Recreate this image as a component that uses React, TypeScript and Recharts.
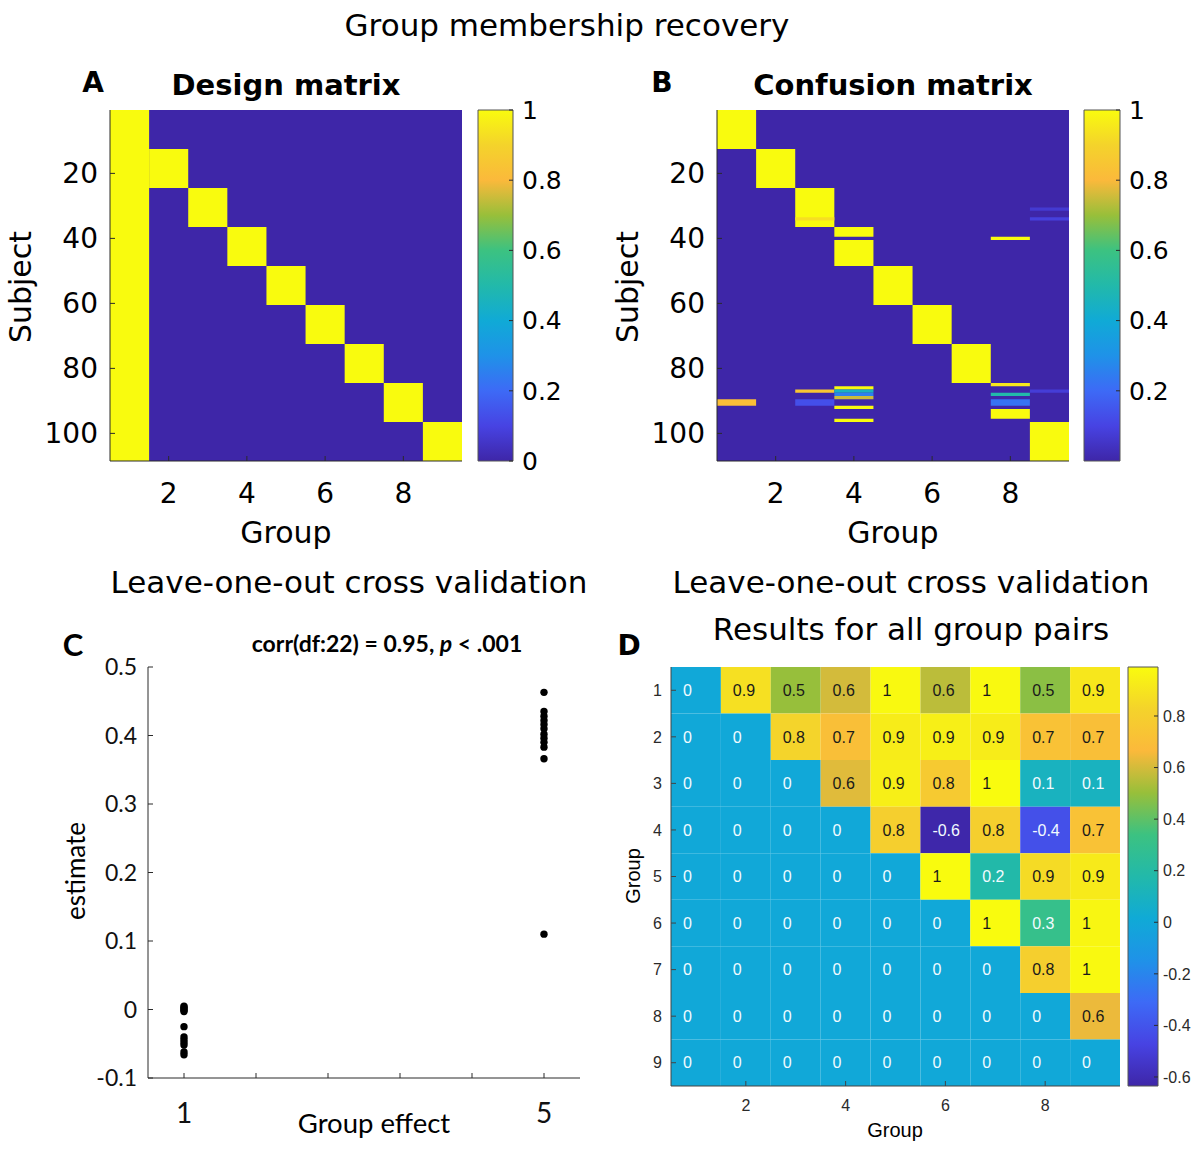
import React from 'react';
import { ComposedChart, ScatterChart, Scatter, XAxis, YAxis, ReferenceArea } from 'recharts';

// ---------------- data ----------------
const groupIds = [1, 2, 3, 4, 5, 6, 7, 8, 9];
const groupTicks = [2, 4, 6, 8];
const subjectTicks = [20, 40, 60, 80, 100];
const subjectDomain: [number, number] = [0.5, 108.5];
const colorbarTicksA = [0, 0.2, 0.4, 0.6, 0.8, 1];
const colorbarTicksB = [0.2, 0.4, 0.6, 0.8, 1];
const colorbarTicksD = [-0.6, -0.4, -0.2, 0, 0.2, 0.4, 0.6, 0.8];
const colorDomainD: [number, number] = [-0.635, 0.99];

// Design matrix: column (group), first subject, last subject, value
const designBlocks = [
  { group: 1, from: 1, to: 108, value: 1 },
  { group: 2, from: 13, to: 24, value: 1 },
  { group: 3, from: 25, to: 36, value: 1 },
  { group: 4, from: 37, to: 48, value: 1 },
  { group: 5, from: 49, to: 60, value: 1 },
  { group: 6, from: 61, to: 72, value: 1 },
  { group: 7, from: 73, to: 84, value: 1 },
  { group: 8, from: 85, to: 96, value: 1 },
  { group: 9, from: 97, to: 108, value: 1 },
];

// Confusion matrix: non-zero entries
const confusionBlocks = [
  { group: 1, from: 1, to: 12, value: 1 },
  { group: 2, from: 13, to: 24, value: 1 },
  { group: 3, from: 25, to: 36, value: 1 },
  { group: 3, from: 34, to: 34, value: 0.93 },
  { group: 4, from: 37, to: 39, value: 1 },
  { group: 4, from: 41, to: 48, value: 1 },
  { group: 8, from: 40, to: 40, value: 1 },
  { group: 9, from: 31, to: 31, value: 0.07 },
  { group: 9, from: 34, to: 34, value: 0.09 },
  { group: 5, from: 49, to: 60, value: 1 },
  { group: 6, from: 61, to: 72, value: 1 },
  { group: 7, from: 73, to: 84, value: 1 },
  { group: 8, from: 85, to: 85, value: 0.95 },
  { group: 4, from: 86, to: 86, value: 1 },
  { group: 3, from: 87, to: 87, value: 0.85 },
  { group: 4, from: 87, to: 87, value: 0.45 },
  { group: 9, from: 87, to: 87, value: 0.08 },
  { group: 4, from: 88, to: 88, value: 0.25 },
  { group: 8, from: 88, to: 88, value: 0.5 },
  { group: 4, from: 89, to: 89, value: 0.75 },
  { group: 1, from: 90, to: 91, value: 0.82 },
  { group: 3, from: 90, to: 91, value: 0.13 },
  { group: 8, from: 90, to: 91, value: 0.22 },
  { group: 4, from: 92, to: 92, value: 1 },
  { group: 8, from: 93, to: 95, value: 1 },
  { group: 4, from: 96, to: 96, value: 1 },
  { group: 9, from: 97, to: 108, value: 1 },
];

// Panel C
const effectTicks = [1, 1.8, 2.6, 3.4, 4.2, 5];
const estimateTicks = [-0.1, 0, 0.1, 0.2, 0.3, 0.4, 0.5];
const estimatesEffect1 = [0.005, 0.003, 0.001, -0.001, -0.003, -0.025, -0.04, -0.044, -0.048, -0.052, -0.062, -0.066];
const estimatesEffect5 = [0.463, 0.435, 0.428, 0.422, 0.416, 0.41, 0.402, 0.396, 0.39, 0.383, 0.366, 0.11];

// Panel D: results for all group pairs (row = group i, column = group j)
const pairValues = [
  [0, 0.88, 0.5, 0.6, 0.98, 0.56, 0.98, 0.48, 0.91],
  [0, 0, 0.83, 0.7, 0.93, 0.94, 0.93, 0.72, 0.7],
  [0, 0, 0, 0.62, 0.94, 0.77, 0.99, 0.1, 0.1],
  [0, 0, 0, 0, 0.8, -0.63, 0.8, -0.42, 0.72],
  [0, 0, 0, 0, 0, 0.99, 0.18, 0.86, 0.92],
  [0, 0, 0, 0, 0, 0, 0.99, 0.3, 0.97],
  [0, 0, 0, 0, 0, 0, 0, 0.8, 0.98],
  [0, 0, 0, 0, 0, 0, 0, 0, 0.64],
  [0, 0, 0, 0, 0, 0, 0, 0, 0],
];

// ---------------- colour map (parula-like) ----------------
const parulaStops: [number, string][] = [
  [0.0, '#3E26A8'],
  [0.1, '#4743E3'],
  [0.2, '#3D6AF6'],
  [0.3, '#1F92E8'],
  [0.4, '#10AAD6'],
  [0.5, '#22B9AA'],
  [0.6, '#3CC281'],
  [0.7, '#98BF3A'],
  [0.8, '#FBB93B'],
  [0.9, '#F4D32B'],
  [1.0, '#F9FB0E'],
];

function hexToRgb(h: string) {
  return [parseInt(h.slice(1, 3), 16), parseInt(h.slice(3, 5), 16), parseInt(h.slice(5, 7), 16)];
}
function colorAt(t: number) {
  const c = Math.max(0, Math.min(1, t));
  for (let i = 0; i < parulaStops.length - 1; i++) {
    const [t0, c0] = parulaStops[i];
    const [t1, c1] = parulaStops[i + 1];
    if (c >= t0 && c <= t1) {
      const f = (c - t0) / (t1 - t0);
      const a = hexToRgb(c0);
      const b = hexToRgb(c1);
      const m = a.map((v, k) => Math.round(v + (b[k] - v) * f));
      return `rgb(${m[0]},${m[1]},${m[2]})`;
    }
  }
  return parulaStops[parulaStops.length - 1][1];
}
const colorD = (v: number) => colorAt((v - colorDomainD[0]) / (colorDomainD[1] - colorDomainD[0]));
const fmt1 = (v: number) => String(Math.round(v * 10) / 10);
const NoMark = () => <g />;

// ---------------- styles ----------------
const AXIS = '#2b2b2b';
const DEJAVU = 'DejaVu Sans';
const LATO = 'Lato';
const HELV = 'Liberation Sans';

function SubjectMatrix({ left, blocks }: { left: number; blocks: typeof designBlocks }) {
  const tickStyle = { fill: '#000', fontSize: 28, fontFamily: DEJAVU };
  const anchors = blocks.map((b) => ({ x: b.group, y: b.from }));
  return (
    <div style={{ position: 'absolute', left, top: 80 }}>
      <ComposedChart width={470} height={490} margin={{ top: 30, right: 8, bottom: 0, left: 0 }}>
        <XAxis type="number" dataKey="x" domain={[0.5, 9.5]} ticks={groupTicks} allowDataOverflow height={109}
          tickSize={-5} tickMargin={27} tick={tickStyle} stroke={AXIS} interval={0} />
        <XAxis xAxisId="top" orientation="top" type="number" domain={[0.5, 9.5]} ticks={groupTicks}
          allowDataOverflow height={0} tickSize={-5} tick={false} stroke={AXIS} interval={0} />
        <YAxis type="number" dataKey="y" domain={subjectDomain} reversed ticks={subjectTicks} allowDataOverflow width={110}
          tickSize={-5} tickMargin={17} tick={tickStyle} stroke={AXIS} interval={0} />
        <YAxis yAxisId="right" orientation="right" type="number" domain={subjectDomain} reversed ticks={subjectTicks}
          allowDataOverflow width={0} tickSize={-5} tick={false} stroke={AXIS} interval={0} />
        <ReferenceArea x1={0.5} x2={9.5} y1={0.5} y2={108.5} fill={colorAt(0)} fillOpacity={1} />
        {blocks.map((b, i) => (
          <ReferenceArea key={i} x1={b.group - 0.5} x2={b.group + 0.5} y1={b.from - 0.5} y2={b.to + 0.5}
            fill={colorAt(b.value)} fillOpacity={1} />
        ))}
        <Scatter data={anchors} isAnimationActive={false} shape={NoMark} />
      </ComposedChart>
    </div>
  );
}

function Colorbar({ left, top, width, height, margin, domain, ticks, id, axisWidth, tickMargin, tickStyle }: any) {
  const anchors = ticks.map((v: number) => ({ x: 0.5, y: v }));
  return (
    <div style={{ position: 'absolute', left, top }}>
      <ComposedChart width={width} height={height} margin={margin}>
        <defs>
          <linearGradient id={id} x1="0" y1="1" x2="0" y2="0">
            {parulaStops.map(([t, c]) => (
              <stop key={t} offset={`${t * 100}%`} stopColor={c} />
            ))}
          </linearGradient>
        </defs>
        <XAxis type="number" dataKey="x" domain={[0, 1]} hide />
        <YAxis orientation="right" type="number" dataKey="y" domain={domain} ticks={ticks} allowDataOverflow width={axisWidth}
          tickSize={-4} tickMargin={tickMargin} tick={tickStyle} axisLine={false} stroke={AXIS}
          interval={0} tickFormatter={fmt1} />
        <ReferenceArea x1={0} x2={1} y1={domain[0]} y2={domain[1]} fill={`url(#${id})`} fillOpacity={1}
          stroke="#555" strokeWidth={1} />
        <Scatter data={anchors} isAnimationActive={false} shape={NoMark} />
      </ComposedChart>
    </div>
  );
}

const scatterPoints = [
  ...estimatesEffect1.map((e) => ({ effect: 1, estimate: e })),
  ...estimatesEffect5.map((e) => ({ effect: 5, estimate: e })),
];

function PanelC() {
  const tickStyle = { fill: '#111', fontSize: 23, fontFamily: LATO };
  return (
    <div style={{ position: 'absolute', left: 0, top: 640 }}>
      <ScatterChart width={600} height={509} margin={{ top: 27, right: 20, bottom: 0, left: 0 }}>
        <XAxis type="number" dataKey="effect" domain={[0.6, 5.4]} ticks={effectTicks} allowDataOverflow height={71}
          tickSize={-5} tickMargin={30} tick={{ fill: '#111', fontSize: 28, fontFamily: LATO }} stroke={AXIS}
          interval={0} tickFormatter={(v: number) => (v === 1 || v === 5 ? String(v) : '')} />
        <XAxis xAxisId="top" orientation="top" type="number" domain={[0.6, 5.4]} ticks={effectTicks}
          allowDataOverflow height={0} tickSize={-4} tick={false} axisLine={false} stroke="#bbb" interval={0} />
        <YAxis type="number" dataKey="estimate" domain={[-0.1, 0.5]} ticks={estimateTicks} allowDataOverflow width={148}
          tickSize={-5} tickMargin={16} tick={tickStyle} stroke={AXIS} interval={0} tickFormatter={fmt1} />
        <YAxis yAxisId="right" orientation="right" type="number" domain={[-0.1, 0.5]} ticks={estimateTicks}
          allowDataOverflow width={0} tickSize={-5} tick={false} stroke={AXIS} interval={0} />
        <Scatter data={scatterPoints} fill="#000" isAnimationActive={false}
          shape={(p: any) => <circle cx={p.cx} cy={p.cy} r={3.7} fill="#000" />} />
      </ScatterChart>
    </div>
  );
}

const pairCells = pairValues.flatMap((row, i) => row.map((v, j) => ({ row: i + 1, col: j + 1, value: v })));

function CellLabel(p: any) {
  const v = p.payload.value;
  return (
    <text x={p.cx - 13} y={p.cy} dy="0.36em" fontSize={16} fontFamily={HELV}
      fill={v < 0.45 ? '#f2fbff' : '#1a1a1a'}>
      {fmt1(v)}
    </text>
  );
}

function PanelD() {
  const tickStyle = { fill: '#2a2a2a', fontSize: 16, fontFamily: HELV };
  return (
    <div style={{ position: 'absolute', left: 607, top: 650 }}>
      <ComposedChart width={520} height={499} margin={{ top: 17, right: 7, bottom: 0, left: 0 }}>
        <XAxis type="number" dataKey="col" domain={[0.5, 9.5]} ticks={groupTicks} allowDataOverflow height={63}
          tickSize={-5} tickMargin={19} tick={tickStyle} stroke="#444" interval={0} />
        <XAxis xAxisId="top" orientation="top" type="number" domain={[0.5, 9.5]} ticks={groupTicks}
          allowDataOverflow height={0} tickSize={-5} tick={false} stroke="#999" interval={0} />
        <YAxis type="number" dataKey="row" domain={[0.5, 9.5]} reversed ticks={groupIds} allowDataOverflow width={64}
          tickSize={-5} tickMargin={14} tick={tickStyle} stroke="#444" interval={0} />
        <YAxis yAxisId="right" orientation="right" type="number" domain={[0.5, 9.5]} reversed ticks={groupIds}
          allowDataOverflow width={0} tickSize={-5} tick={false} stroke="#444" interval={0} />
        {pairCells.map((c, k) => (
          <ReferenceArea key={k} x1={c.col - 0.5} x2={c.col + 0.5} y1={c.row - 0.5} y2={c.row + 0.5}
            fill={colorD(c.value)} fillOpacity={1} />
        ))}
        <Scatter data={pairCells} dataKey="row" isAnimationActive={false} shape={CellLabel} />
      </ComposedChart>
    </div>
  );
}

function Texts() {
  const t = (x: number, y: number, s: string, size: number, family: string, weight = 'normal', rotate = false) => (
    <text x={x} y={y} fontSize={size} fontFamily={family} fontWeight={weight} textAnchor="middle" fill="#000"
      transform={rotate ? `rotate(-90 ${x} ${y})` : undefined}>
      {s}
    </text>
  );
  return (
    <svg width={1200} height={1149} style={{ position: 'absolute', left: 0, top: 0, pointerEvents: 'none' }}>
      {t(567, 36, 'Group membership recovery', 31, DEJAVU)}
      {t(93, 92, 'A', 28, DEJAVU, 'bold')}
      {t(286, 95, 'Design matrix', 29, DEJAVU, 'bold')}
      {t(662, 92, 'B', 28, DEJAVU, 'bold')}
      {t(893, 95, 'Confusion matrix', 29, DEJAVU, 'bold')}
      {t(31, 287, 'Subject', 30, DEJAVU, 'normal', true)}
      {t(638, 287, 'Subject', 30, DEJAVU, 'normal', true)}
      {t(286, 543, 'Group', 30, DEJAVU)}
      {t(893, 543, 'Group', 30, DEJAVU)}
      {t(349, 593, 'Leave-one-out cross validation', 31, DEJAVU)}
      {t(911, 593, 'Leave-one-out cross validation', 31, DEJAVU)}
      {t(911, 640, 'Results for all group pairs', 31, DEJAVU)}
      {t(73, 656, 'C', 31, LATO, 'bold')}
      <text x={387} y={652} fontSize={23} fontFamily={LATO} fontWeight="bold" textAnchor="middle" fill="#000">
        corr(df:22) = 0.95, <tspan fontStyle="italic">p</tspan> &lt; .001
      </text>
      {t(85, 871, 'estimate', 26, LATO, 'normal', true)}
      {t(374, 1133, 'Group effect', 27.5, LATO)}
      {t(629, 655, 'D', 28, DEJAVU, 'bold')}
      {t(895, 1137, 'Group', 20, HELV)}
      {t(640, 876, 'Group', 20, HELV, 'normal', true)}
    </svg>
  );
}

export default function App() {
  return (
    <div style={{ position: 'absolute', left: 0, top: 0, width: 1200, height: 1149, background: '#fff', overflow: 'hidden' }}>
      <SubjectMatrix left={0} blocks={designBlocks} />
      <Colorbar left={470} top={80} width={100} height={490} margin={{ top: 30, right: 0, bottom: 109, left: 8 }}
        domain={[0, 1]} ticks={colorbarTicksA} id="cbA" axisWidth={57} tickMargin={13}
        tickStyle={{ fill: '#000', fontSize: 25, fontFamily: DEJAVU }} />
      <SubjectMatrix left={607} blocks={confusionBlocks} />
      <Colorbar left={1076} top={80} width={124} height={490} margin={{ top: 30, right: 0, bottom: 109, left: 8 }}
        domain={[0, 1]} ticks={colorbarTicksB} id="cbB" axisWidth={80} tickMargin={13}
        tickStyle={{ fill: '#000', fontSize: 25, fontFamily: DEJAVU }} />
      <PanelC />
      <PanelD />
      <Colorbar left={1120} top={630} width={80} height={519} margin={{ top: 37, right: 0, bottom: 63, left: 8 }}
        domain={colorDomainD} ticks={colorbarTicksD} id="cbD" axisWidth={42} tickMargin={9}
        tickStyle={{ fill: '#2a2a2a', fontSize: 16, fontFamily: HELV }} />
      <Texts />
    </div>
  );
}
